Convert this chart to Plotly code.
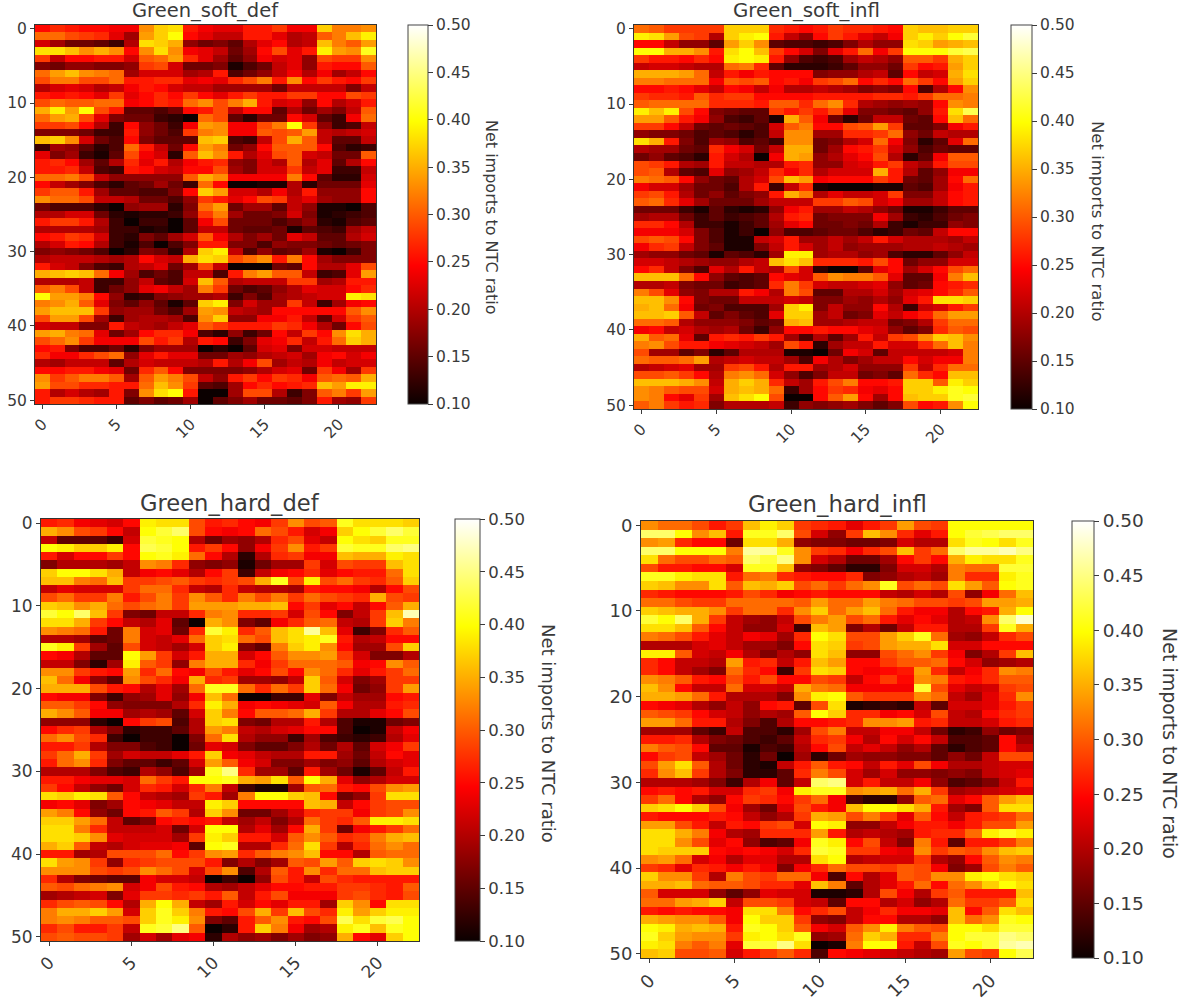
import plotly.graph_objects as go

TITLES = ["Green_soft_def", "Green_soft_infl", "Green_hard_def", "Green_hard_infl"]
CBAR_LABEL = "Net imports to NTC ratio"
X_TICKS = [0, 5, 10, 15, 20]
Y_TICKS = [0, 10, 20, 30, 40, 50]
CBAR_TICKS = [0.10, 0.15, 0.20, 0.25, 0.30, 0.35, 0.40, 0.45, 0.50]

# cell values in hundredths of the ratio
SOFT_DEF = [
[25,27,26,25,25,24,24,33,37,38,26,24,23,23,26,26,28,24,24,37,32,32,33],
[31,31,29,28,27,23,19,34,37,40,25,23,21,21,26,26,23,20,21,30,32,36,39],
[22,19,16,16,15,13,20,38,37,35,18,16,17,15,20,23,25,20,21,36,32,30,34],
[38,38,36,33,35,33,25,33,38,33,24,23,21,16,19,25,29,23,26,39,34,33,41],
[28,21,25,25,26,26,22,30,31,34,27,23,19,15,18,24,22,23,18,29,28,28,33],
[17,16,18,18,17,17,18,28,29,22,16,16,17,11,14,16,21,23,18,26,25,25,30],
[31,34,36,33,32,31,19,22,22,22,19,20,26,14,16,18,21,24,20,24,19,21,25],
[29,32,32,29,29,31,26,26,27,27,23,24,23,27,29,32,26,33,25,28,26,25,28],
[20,22,23,22,20,21,24,26,25,22,21,21,19,19,19,19,16,21,21,21,21,17,21],
[26,25,26,25,23,28,23,25,27,25,28,25,23,26,28,26,26,28,28,25,25,29,28],
[29,31,30,30,31,31,24,25,27,26,31,33,29,32,35,26,22,23,18,25,20,22,26],
[35,39,34,40,29,26,15,15,14,16,25,26,29,21,25,25,15,20,16,19,17,21,30],
[31,34,35,29,23,17,16,16,13,12,10,31,29,15,12,16,16,25,22,15,13,24,31],
[28,28,29,25,20,13,25,18,16,13,24,34,33,24,24,29,32,40,28,18,13,14,21],
[17,17,17,16,13,13,26,18,16,14,28,32,33,24,24,30,29,30,34,21,20,21,22],
[36,37,33,22,16,14,25,17,15,15,15,36,37,14,13,21,29,35,30,21,15,15,21],
[13,19,18,15,12,14,31,26,21,16,25,34,32,16,18,25,30,30,30,25,14,12,13],
[23,17,19,13,11,15,29,24,22,12,30,36,33,26,20,23,29,30,22,21,16,16,30],
[26,27,25,19,15,20,27,23,26,20,24,26,27,18,17,22,20,30,20,23,15,20,25],
[26,26,27,21,14,13,26,25,22,21,25,25,29,19,17,22,22,28,21,23,13,13,21],
[31,31,32,29,21,18,18,18,18,18,30,35,33,24,24,24,24,32,25,15,12,12,22],
[25,21,19,17,14,12,15,16,19,16,13,31,25,10,10,11,11,20,12,16,16,16,23],
[28,30,30,26,19,15,15,14,14,17,25,37,34,22,22,20,24,20,26,18,18,18,25],
[33,31,31,29,21,21,20,16,16,14,18,28,26,23,25,29,28,21,23,19,18,18,25],
[16,14,14,14,12,10,18,19,19,12,17,31,34,16,19,19,15,21,18,11,11,10,14],
[20,20,22,22,16,12,11,12,12,13,18,28,32,19,16,16,17,22,17,11,12,13,14],
[26,28,28,26,20,13,10,13,13,10,15,24,29,16,16,16,14,16,18,12,11,14,15],
[20,20,20,20,19,13,13,11,12,10,15,21,21,16,15,15,16,11,15,14,13,19,21],
[25,26,28,27,22,13,12,17,15,19,22,30,24,20,17,19,16,23,21,15,15,20,22],
[20,22,26,25,20,13,11,14,10,14,17,26,26,17,17,14,18,17,17,16,15,16,17],
[17,18,17,16,14,10,12,17,16,12,20,37,39,21,14,18,15,16,19,11,10,13,17],
[20,21,21,21,20,19,20,25,22,21,35,38,37,29,31,33,26,32,25,19,17,17,17],
[26,22,21,17,14,13,20,21,23,16,19,29,21,10,10,10,16,15,25,20,20,23,29],
[35,36,37,36,31,24,19,14,16,14,21,21,14,26,32,34,30,30,21,13,14,23,34],
[20,20,20,21,13,13,18,21,15,14,22,36,30,20,21,21,21,28,28,19,20,26,26],
[30,32,29,21,13,16,18,23,24,21,19,32,28,16,14,15,18,20,23,22,22,25,27],
[40,34,34,32,25,18,12,13,17,18,19,19,20,13,17,14,19,20,21,22,22,39,38],
[32,33,35,30,23,17,15,18,15,11,15,37,39,17,22,19,19,28,21,13,19,24,25],
[34,36,36,36,28,18,19,19,16,14,19,34,33,21,20,19,25,25,25,25,25,30,33],
[29,34,34,29,19,13,19,20,20,19,14,33,37,18,18,24,24,26,21,15,22,28,30],
[22,21,21,17,17,26,21,20,19,21,23,30,28,26,26,26,28,27,24,20,16,25,29],
[34,35,32,31,23,16,19,25,27,27,24,14,12,18,13,16,25,21,28,25,33,38,35],
[29,31,33,28,24,24,24,29,26,28,20,26,25,13,17,23,24,27,21,26,31,37,35],
[25,26,17,14,14,16,12,17,19,19,19,10,12,10,15,22,23,17,22,22,21,21,21],
[27,24,24,27,29,31,18,23,26,23,23,16,16,19,18,20,21,22,19,24,25,22,24],
[20,19,21,21,21,15,20,22,21,21,21,20,26,20,24,29,19,21,20,24,21,22,22],
[25,25,26,26,24,23,16,27,30,25,17,17,17,17,18,20,22,23,16,28,24,19,28],
[33,28,30,32,32,30,19,30,34,32,29,21,18,26,28,25,28,27,24,30,31,30,35],
[34,29,29,27,27,26,26,31,36,33,28,15,14,19,25,27,25,26,27,36,34,39,39],
[26,20,22,20,19,26,17,33,38,40,26,10,10,19,29,29,20,13,17,30,32,28,34],
[26,28,28,27,26,26,15,17,15,16,19,10,15,17,19,16,16,15,17,26,19,18,28],
]

SOFT_INFL = [
[31,30,28,28,28,28,37,37,37,27,26,25,26,28,27,27,26,25,37,36,36,37,37],
[39,38,34,29,28,20,37,39,40,26,21,18,25,28,26,23,21,24,37,39,37,40,42],
[25,25,21,18,18,15,34,37,33,15,14,14,13,14,17,20,18,18,38,37,34,35,36],
[40,40,35,35,33,26,38,40,36,28,25,22,17,23,26,31,24,28,40,40,40,42,43],
[28,26,26,25,27,25,39,40,39,26,18,14,13,14,19,21,20,18,30,30,28,35,37],
[21,22,22,21,20,20,31,32,27,15,12,12,12,13,15,18,18,16,28,25,26,34,37],
[35,35,35,34,31,21,26,24,26,25,25,25,17,18,18,20,21,15,25,21,22,35,38],
[32,32,31,31,31,24,30,29,30,25,26,24,28,29,31,25,27,25,31,28,25,34,37],
[25,25,26,25,23,21,25,24,21,24,20,20,21,20,19,17,18,17,25,14,20,25,33],
[28,27,27,26,30,27,28,28,25,25,25,25,26,26,26,26,27,27,26,28,31,31,32],
[30,31,31,31,31,27,27,27,26,30,30,27,31,33,27,20,19,18,19,18,25,33,32],
[39,36,39,29,25,17,16,15,15,28,26,28,26,29,23,17,17,16,15,18,26,38,43],
[34,34,30,26,24,18,14,13,15,11,35,30,24,16,12,16,21,21,16,15,25,36,31],
[28,28,25,21,16,15,16,15,14,22,30,32,25,25,29,30,34,28,15,15,17,24,26],
[18,17,17,16,14,15,14,12,14,21,33,33,19,19,27,27,28,31,18,16,21,20,20],
[38,35,26,17,14,19,18,14,15,13,33,33,16,17,20,22,31,24,17,12,15,23,31],
[20,19,19,16,15,27,24,22,16,21,35,35,16,19,25,26,28,22,18,14,16,15,15],
[16,18,15,14,12,26,22,20,10,24,35,34,18,20,23,25,29,20,12,15,24,30,30],
[29,28,26,20,19,26,21,21,20,20,26,27,18,18,22,23,26,28,21,19,26,29,29],
[29,30,20,15,14,23,18,19,21,27,24,27,20,22,22,22,35,26,20,15,18,24,24],
[32,31,30,25,18,16,15,20,22,29,36,34,24,25,25,25,28,26,16,15,19,25,31],
[24,22,22,19,16,16,14,20,26,13,21,27,11,10,10,10,11,11,15,14,19,24,26],
[28,29,26,20,16,18,15,17,18,26,35,32,20,23,21,21,22,28,17,17,21,25,26],
[30,31,27,23,19,16,16,16,19,21,21,21,28,28,30,29,22,24,19,19,21,25,26],
[16,16,16,13,11,15,12,11,12,18,24,26,19,19,21,20,18,16,11,11,13,15,15],
[19,20,20,16,13,15,13,14,15,20,26,27,16,17,17,17,24,19,13,12,14,16,17],
[27,27,25,20,13,13,11,13,15,19,23,25,16,16,17,16,20,13,11,13,13,18,17],
[24,24,24,22,17,14,11,13,10,18,14,14,15,16,16,14,12,13,16,15,21,25,25],
[29,30,29,25,17,14,11,11,21,22,26,19,19,21,19,21,26,22,20,20,20,19,21],
[24,27,28,21,17,15,11,11,17,21,26,22,19,21,18,19,19,19,20,20,21,20,19],
[19,18,18,16,15,11,15,14,12,19,39,39,19,20,20,18,19,14,12,12,15,18,21],
[22,22,21,20,19,18,18,20,21,36,38,36,27,27,27,26,29,25,16,18,18,22,22],
[25,27,21,17,14,23,20,26,21,20,29,22,12,10,10,15,23,25,19,22,25,29,31],
[36,36,36,31,25,18,15,14,15,25,23,22,30,33,32,32,30,23,15,15,24,32,36],
[20,20,21,17,16,16,13,14,15,27,32,28,22,21,21,22,23,18,15,16,25,26,27],
[32,29,23,18,17,20,20,26,24,20,32,29,15,15,20,20,22,19,22,23,25,27,30],
[36,36,33,25,17,16,16,21,21,21,22,21,17,17,19,18,20,18,23,26,38,38,37],
[35,36,31,24,16,17,14,14,14,19,37,39,17,21,18,18,25,20,13,21,22,26,28],
[36,36,37,30,21,15,17,15,14,23,37,37,19,21,16,17,23,21,24,26,31,34,34],
[31,31,30,20,18,18,18,17,15,16,35,36,19,19,20,21,21,16,17,20,28,31,31],
[24,25,21,22,20,19,20,16,13,18,25,25,26,25,25,23,22,18,15,17,27,30,29],
[35,30,31,23,15,26,27,26,28,26,19,14,20,15,19,26,21,28,29,33,37,36,33],
[32,33,29,26,26,24,23,22,21,19,29,26,12,19,21,21,26,22,22,27,31,36,32],
[29,19,19,15,17,12,15,20,20,20,11,11,10,16,24,22,15,21,21,21,21,22,32],
[31,30,30,31,34,20,21,22,21,21,19,14,24,20,17,19,21,21,25,22,24,24,32],
[20,21,22,23,19,19,28,29,26,20,26,26,19,20,22,18,18,18,28,21,27,31,31],
[29,29,30,28,25,20,32,33,31,22,18,14,17,21,21,16,17,15,31,27,25,36,36],
[36,36,36,35,33,21,35,37,35,27,21,19,26,29,32,25,25,26,37,37,30,39,37],
[33,32,30,29,29,22,35,36,35,31,13,19,25,28,27,24,23,25,37,37,39,41,40],
[33,32,25,23,28,19,36,38,40,29,10,10,25,30,34,25,19,25,36,37,37,41,42],
[30,32,28,26,27,17,20,20,20,21,13,18,17,18,19,17,15,17,29,25,26,33,40],
]

HARD_DEF = [
[26,27,24,23,22,25,39,38,38,29,26,27,25,24,28,33,29,30,41,38,38,38,37],
[35,33,29,28,25,21,40,42,44,29,25,24,25,31,29,26,22,24,37,40,42,44,42],
[21,15,15,15,13,22,42,41,40,20,16,19,18,20,27,29,23,21,40,38,37,41,41],
[40,39,37,37,39,25,43,42,40,26,28,25,18,24,28,33,26,28,42,41,41,44,45],
[26,22,25,25,28,25,40,41,39,31,25,20,12,20,27,28,24,24,36,35,35,39,38],
[17,20,20,20,19,21,33,32,27,18,17,18,11,16,19,19,28,22,29,28,28,36,38],
[37,40,40,38,35,21,24,25,23,20,25,28,13,21,24,25,27,23,25,26,26,31,38],
[36,36,32,31,36,28,28,29,30,28,27,28,29,35,41,29,39,29,31,28,27,30,37],
[21,23,22,22,22,28,31,31,27,21,20,27,21,20,20,19,26,25,25,24,20,25,29],
[29,31,28,28,32,26,29,32,28,33,30,27,32,29,32,28,31,29,28,27,35,29,28],
[37,36,33,35,31,29,31,32,28,34,34,34,35,35,36,25,28,23,25,21,25,30,35],
[42,40,44,36,28,17,16,21,21,27,32,33,27,27,28,22,29,25,17,21,28,36,47],
[38,38,35,28,25,21,20,23,15,10,35,33,17,15,24,27,30,31,21,20,28,37,32],
[33,32,31,26,16,32,22,23,16,27,42,39,27,30,36,38,46,36,23,13,17,27,30],
[20,20,19,15,16,32,22,21,23,31,37,38,31,29,36,38,39,41,26,20,21,25,25],
[41,39,28,19,15,29,22,21,19,22,37,39,17,15,32,37,39,33,25,19,19,29,37],
[25,24,20,15,15,40,34,28,22,26,35,35,22,25,30,33,33,34,28,22,17,17,20],
[21,21,17,12,19,39,30,28,18,32,35,35,27,24,28,31,31,31,30,24,25,33,30],
[33,33,28,26,25,34,27,31,25,24,29,26,23,25,29,25,33,31,27,23,26,28,31],
[36,31,24,18,15,33,29,27,24,35,27,28,19,19,18,21,37,30,22,17,19,28,28],
[35,35,35,29,26,25,20,23,19,31,41,41,31,27,31,28,37,31,24,16,18,28,34],
[25,24,24,17,13,18,19,23,18,24,36,31,10,10,13,13,23,17,21,19,19,25,26],
[30,30,28,25,18,17,17,17,20,27,39,35,24,25,24,23,22,30,24,20,20,26,27],
[35,33,30,24,24,19,20,19,15,22,37,32,25,30,30,31,35,28,20,20,23,25,29],
[18,18,18,12,10,25,28,29,14,20,37,38,17,16,20,20,26,20,14,11,11,16,17],
[25,27,28,20,17,12,13,13,15,20,34,32,21,20,22,23,25,25,14,10,11,21,24],
[31,33,29,27,13,10,13,13,10,17,31,38,20,18,18,13,19,14,13,12,13,20,23],
[26,26,28,20,17,17,14,13,10,16,23,22,17,15,15,17,20,16,20,15,22,24,28],
[28,31,35,28,19,22,21,21,23,26,37,24,23,21,20,20,26,26,19,16,21,25,23],
[26,31,33,27,17,15,15,13,15,22,34,30,24,22,17,17,19,17,18,15,20,22,23],
[20,20,20,17,14,13,20,18,14,19,41,45,27,19,19,15,26,19,16,11,15,21,26],
[26,26,24,23,23,22,31,28,26,40,40,41,35,34,38,30,40,35,23,18,20,22,22],
[28,25,21,18,16,22,27,26,22,27,32,21,13,11,11,19,30,31,26,25,29,33,34],
[38,37,39,38,30,25,21,20,19,28,26,19,32,40,40,37,36,25,16,18,28,38,38],
[24,25,23,17,19,25,24,23,21,21,39,37,25,25,25,25,36,35,21,25,28,29,29],
[34,32,25,18,16,25,26,30,28,20,37,33,16,16,19,22,27,28,28,24,28,29,33],
[37,37,34,31,21,15,17,25,26,25,26,21,19,21,17,20,31,28,27,30,39,39,38],
[38,38,32,27,21,21,21,22,16,22,40,40,20,23,19,25,35,28,16,24,26,28,31],
[38,38,37,33,23,22,22,22,19,28,39,37,26,26,22,30,33,30,27,28,32,35,36],
[35,37,30,21,20,22,23,23,24,15,40,41,20,20,27,31,38,28,20,27,31,33,31],
[26,26,19,20,29,29,29,31,25,28,33,34,27,30,32,33,36,25,25,20,30,31,31],
[38,34,33,28,18,27,28,29,29,29,26,17,20,17,19,30,29,34,30,37,38,37,33],
[33,33,33,29,28,29,33,31,29,22,29,33,14,20,30,26,33,27,31,31,36,37,37],
[27,20,17,16,15,15,24,22,22,21,10,13,10,18,29,26,21,29,27,26,26,26,26],
[30,29,31,32,33,22,24,29,26,25,20,19,21,23,25,25,26,26,28,28,27,26,30],
[19,20,21,22,17,23,28,28,27,28,26,30,21,26,29,24,24,24,28,29,27,26,29],
[27,29,30,29,25,20,35,40,35,21,19,26,22,25,23,26,26,19,37,33,25,38,38],
[32,35,35,37,34,22,37,41,37,32,26,25,29,35,28,36,29,27,39,34,37,39,39],
[32,33,32,30,30,29,37,41,39,33,17,15,26,30,33,26,25,29,43,38,42,43,40],
[27,29,26,26,28,21,41,42,45,30,10,12,26,37,32,24,19,20,39,41,36,41,40],
[29,30,29,29,28,19,22,19,23,24,12,20,18,19,17,19,17,18,35,25,23,37,40],
]

HARD_INFL = [
[33,31,31,29,26,28,36,39,37,28,27,26,23,26,28,34,29,28,40,40,40,40,40],
[44,44,40,33,36,26,41,41,44,29,22,18,28,36,33,27,23,26,40,42,43,44,44],
[33,34,27,25,25,16,38,38,35,18,17,17,16,16,17,22,20,20,38,41,40,38,41],
[44,44,40,40,40,32,46,46,41,33,28,27,24,27,29,36,28,31,44,46,46,47,45],
[38,31,29,29,31,30,44,42,45,33,22,20,16,16,19,25,28,25,35,39,38,38,41],
[29,26,26,25,25,22,41,41,36,18,17,15,12,12,17,22,22,20,32,31,31,42,42],
[41,41,39,38,38,26,31,32,27,26,25,25,27,17,18,20,21,19,32,27,27,39,41],
[37,36,33,33,38,30,36,35,37,29,31,28,31,33,41,29,31,29,38,34,30,40,41],
[27,26,25,25,25,26,29,27,24,25,26,25,25,25,21,20,22,20,29,18,24,31,36],
[31,31,29,28,28,31,31,31,31,30,34,31,31,34,32,31,29,29,28,29,34,34,35],
[37,36,35,35,33,28,31,31,27,33,37,31,34,36,31,26,24,24,20,25,26,35,40],
[42,40,44,35,28,21,19,18,21,29,32,34,29,31,26,23,25,23,20,21,33,44,48],
[38,38,36,30,25,21,18,18,22,13,36,34,17,20,16,21,26,26,20,20,28,41,35],
[32,31,29,26,23,21,24,23,19,27,40,38,29,29,34,37,41,31,19,18,21,27,29],
[20,20,20,22,23,21,19,19,17,25,38,37,28,29,34,35,35,38,22,22,25,25,25],
[39,39,30,22,21,24,20,17,20,18,38,36,18,18,29,31,33,28,24,17,20,28,36],
[27,25,21,21,20,34,26,27,21,26,36,34,25,25,28,30,30,31,25,22,18,19,20],
[27,25,21,19,17,31,27,25,13,28,38,37,25,24,25,26,34,27,21,24,27,33,32],
[33,32,30,26,25,29,26,29,25,25,29,28,21,25,28,25,33,32,26,25,27,30,30],
[36,33,25,21,21,31,22,22,21,35,32,31,24,24,24,24,42,29,23,21,22,28,29],
[35,35,34,31,26,20,20,20,17,33,39,40,30,28,28,28,33,31,21,19,23,27,33],
[25,24,23,20,18,21,18,25,26,15,29,38,11,12,13,12,21,15,22,22,23,26,28],
[30,29,28,25,22,21,18,20,19,30,40,37,27,27,24,25,22,29,21,20,25,27,28],
[34,34,31,26,26,20,17,14,20,25,25,26,27,33,33,34,26,27,21,21,22,26,27],
[19,19,19,15,13,21,14,14,12,19,29,32,21,21,24,24,21,16,12,13,18,16,17],
[26,26,27,20,17,16,14,13,15,21,27,28,24,20,25,22,25,21,14,14,15,25,19],
[32,30,29,25,15,15,11,14,13,20,25,29,21,23,21,18,20,15,12,14,15,25,21],
[25,28,29,21,19,16,12,16,10,19,12,16,19,18,18,17,17,15,18,16,21,29,29],
[29,34,38,30,20,16,12,11,21,26,30,26,25,21,26,23,29,24,20,20,21,22,22],
[27,33,36,28,20,17,12,12,15,27,32,29,22,19,22,18,18,17,18,17,21,22,23],
[20,20,20,19,17,13,20,24,15,21,44,45,22,26,21,21,24,18,14,15,17,21,26],
[25,26,25,26,22,22,27,28,24,39,41,41,33,34,35,31,35,28,19,20,21,22,23],
[28,31,25,20,18,25,28,27,25,28,31,24,14,12,12,18,30,31,23,25,30,34,36],
[37,38,40,37,29,24,19,16,23,29,26,24,36,40,40,38,35,26,19,17,30,38,38],
[26,25,25,25,26,25,21,18,20,28,35,34,29,32,28,23,30,25,21,26,27,28,31],
[34,34,29,26,21,26,25,28,29,22,40,39,18,18,21,24,26,26,24,26,29,29,34],
[38,38,35,32,24,20,19,27,27,27,34,26,20,21,20,19,26,27,27,31,39,41,39],
[38,38,33,29,23,25,18,14,15,24,41,39,25,29,21,17,32,26,15,26,26,28,32],
[38,37,37,37,25,24,25,24,22,27,42,41,28,28,24,23,33,28,30,29,33,36,37],
[33,34,31,22,24,20,23,23,20,20,38,40,20,21,22,22,28,20,18,25,30,33,32],
[28,27,23,27,26,24,26,24,17,24,27,31,29,29,28,30,29,24,17,19,29,32,30],
[37,33,33,28,20,32,29,28,31,31,24,14,25,20,23,30,29,33,33,39,40,38,37],
[35,35,36,31,30,30,29,27,27,23,36,32,15,20,23,26,31,25,31,33,37,40,38],
[30,22,22,22,18,15,18,23,22,22,11,11,12,20,29,24,20,28,30,26,26,26,36],
[31,31,34,35,37,21,29,29,28,22,21,15,25,25,20,22,18,20,31,28,28,30,38],
[26,25,26,25,25,24,38,38,32,25,27,29,21,24,27,24,24,23,36,25,30,38,36],
[35,34,33,33,30,24,40,37,37,28,18,17,21,25,25,20,20,18,36,31,33,41,40],
[40,39,35,36,35,26,41,40,37,30,24,22,30,33,39,32,30,29,40,40,38,42,42],
[41,37,34,33,33,28,39,40,38,41,18,19,31,37,35,27,27,32,40,42,42,45,44],
[39,38,32,30,32,23,42,42,45,38,10,11,32,40,40,26,21,29,41,40,42,46,47],
[36,37,29,29,30,22,26,28,30,27,14,25,24,23,22,21,20,19,34,29,28,40,43],
]

W, H = 1180, 1001
TEXT = "#3a3a3a"
HOT = [[0, "#0b0000"], [0.365, "#ff0000"], [0.746, "#ffff00"], [1, "#ffffff"]]

PANELS = [
    dict(z=SOFT_DEF,  box=(35, 376, 25, 404),  cb=(408, 428),   ty=11,
         tick=15.5, cbt=15.5, head=19.5, lab=16, lx=492, ly=217),
    dict(z=SOFT_INFL, box=(634, 978, 25, 409), cb=(1011, 1032), ty=11,
         tick=15.5, cbt=15.5, head=19.8, lab=16.5, lx=1097, ly=221),
    dict(z=HARD_DEF,  box=(41, 419, 519, 941), cb=(455, 480),   ty=503,
         tick=17, cbt=16.5, head=22.6, lab=18, lx=549, ly=733),
    dict(z=HARD_INFL, box=(641, 1033, 521, 958), cb=(1072, 1094), ty=504,
         tick=18, cbt=18.5, head=22.8, lab=19, lx=1170, ly=743),
]

fig = go.Figure()
layout = dict(
    width=W, height=H, margin=dict(l=0, r=0, t=0, b=0, autoexpand=False),
    paper_bgcolor="white", plot_bgcolor="white",
    font=dict(family="DejaVu Sans", color=TEXT), showlegend=False,
)
notes = []
for i, p in enumerate(PANELS):
    for row in p["z"]:
        assert len(row) == 23, (i, row)
    assert len(p["z"]) == 51, (i, len(p["z"]))
    n = "" if i == 0 else str(i + 1)
    l, r, t, b = p["box"]
    cl, cr = p["cb"]
    z = [[v / 100 for v in row] for row in p["z"]]
    fig.add_trace(go.Heatmap(
        z=z, xaxis="x" + n, yaxis="y" + n,
        colorscale=HOT, zmin=0.10, zmax=0.50,
        colorbar=dict(
            x=cl / W, xanchor="left", xpad=0, ypad=0,
            y=1 - t / H, yanchor="top",
            len=(b - t) / H, lenmode="fraction",
            thickness=cr - cl, thicknessmode="pixels",
            tickvals=CBAR_TICKS, tickformat=".2f", ticks="outside", ticklen=5,
            tickcolor=TEXT, tickfont=dict(size=p["cbt"], color=TEXT),
            outlinecolor="#444444", outlinewidth=1,
        ),
    ))
    axis = dict(showline=True, mirror=True, linecolor="#333333", linewidth=1,
                showgrid=False, zeroline=False, ticks="outside", ticklen=4,
                tickcolor=TEXT, tickfont=dict(size=p["tick"], color=TEXT))
    layout["xaxis" + n] = dict(axis, domain=[l / W, r / W], range=[-0.5, 22.5],
                               anchor="y" + n, tickvals=X_TICKS, tickangle=-45)
    layout["yaxis" + n] = dict(axis, domain=[1 - b / H, 1 - t / H], range=[50.5, -0.5],
                               anchor="x" + n, tickvals=Y_TICKS)
    notes.append(dict(text=TITLES[i], x=(l + r) / 2 / W, y=1 - p["ty"] / H,
                      xref="paper", yref="paper", showarrow=False,
                      xanchor="center", yanchor="middle",
                      font=dict(size=p["head"], color=TEXT)))
    notes.append(dict(text=CBAR_LABEL, x=p["lx"] / W, y=1 - p["ly"] / H,
                      xref="paper", yref="paper", showarrow=False, textangle=90,
                      xanchor="center", yanchor="middle",
                      font=dict(size=p["lab"], color=TEXT)))
layout["annotations"] = notes
fig.update_layout(**layout)
fig.write_html("out.html", config=dict(displayModeBar=False),
               post_script="document.body.style.margin='0';")
